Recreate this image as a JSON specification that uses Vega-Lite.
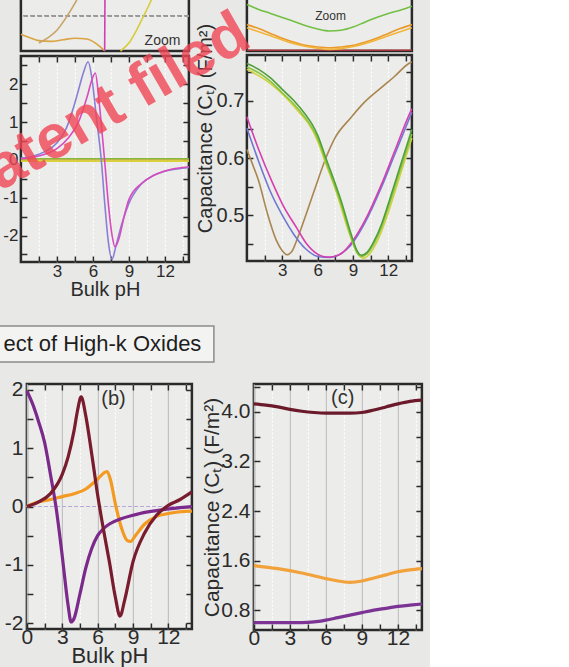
{
"$schema": "https://vega.github.io/schema/vega-lite/v6.json",
"background": "#e8e8e6",
"padding": {"left": -58.1, "top": -34, "right": 0, "bottom": 0},
"title": {"text": "patent filed", "orient": "none", "anchor": "start", "frame": "group", "angle": -30, "dx": -140, "dy": 195.6, "offset": 0, "fontSize": 62, "font": "Liberation Sans", "fontWeight": "bold", "color": "rgba(240,70,85,0.8)", "baseline": "alphabetic", "align": "left"},
"config": {
  "view": {"stroke": "#2a2a2a", "strokeWidth": 2.5, "fill": "#ececea"},
  "axis": {"domain": false, "grid": false, "labelFont": "Liberation Sans", "titleFont": "Liberation Sans", "titleFontWeight": "normal", "labelColor": "#2b2b2b", "titleColor": "#2b2b2b", "tickColor": "#2b2b2b", "tickWidth": 1.5, "tickSize": -6, "labelPadding": 9, "titlePadding": 2, "labelFlush": false, "labelOverlap": false},
  "line": {"strokeWidth": 1.6, "interpolate": "monotone"},
  "range": {"category": ["#d9a441","#c8a467","#d8cc3c","#d23fb5","#8a7fd6","#d84bbf","#e6a32a","#86b83c","#d8d33a","#72c043","#e99a2b","#f2b53a","#a8323a","#4f9f3a","#8cc43f","#cfd23f","#a98650","#d53fb0","#6f78d2","#7b2a8c","#781c2e","#f39a22","#6b1a2b","#f2a23a","#7b3494"]}
},
"datasets": {
 "tlz": [
  {"s":"tlz_orange","pH":0,"v":0.21},{"s":"tlz_orange","pH":0.7,"v":0.17},{"s":"tlz_orange","pH":1.5,"v":0.13},{"s":"tlz_orange","pH":2.5,"v":0.12},{"s":"tlz_orange","pH":3.5,"v":0.14},{"s":"tlz_orange","pH":4.5,"v":0.16},{"s":"tlz_orange","pH":5.5,"v":0.15},{"s":"tlz_orange","pH":6.3,"v":0.09},{"s":"tlz_orange","pH":7,"v":0.0},
  {"s":"tlz_tan","pH":1.5,"v":0.1},{"s":"tlz_tan","pH":2.3,"v":0.17},{"s":"tlz_tan","pH":3,"v":0.26},{"s":"tlz_tan","pH":3.6,"v":0.38},{"s":"tlz_tan","pH":4.2,"v":0.52},{"s":"tlz_tan","pH":4.7,"v":0.65},{"s":"tlz_tan","pH":5.2,"v":0.8},
  {"s":"tlz_yellow","pH":8.3,"v":0.0},{"s":"tlz_yellow","pH":9,"v":0.1},{"s":"tlz_yellow","pH":9.6,"v":0.25},{"s":"tlz_yellow","pH":10.1,"v":0.4},{"s":"tlz_yellow","pH":10.6,"v":0.55},{"s":"tlz_yellow","pH":11.2,"v":0.75},
  {"s":"tlz_mag","pH":6.98,"v":0.0},{"s":"tlz_mag","pH":7.02,"v":1.0}
 ],
 "tl": [
  {"s":"tl_orange","pH":0,"v":0.0},{"s":"tl_orange","pH":14,"v":0.0},
  {"s":"tl_green","pH":0,"v":0.03},{"s":"tl_green","pH":14,"v":0.03},
  {"s":"tl_yellow","pH":0,"v":-0.03},{"s":"tl_yellow","pH":14,"v":-0.03},
  {"s":"tl_blue","pH":0,"v":0.05},{"s":"tl_blue","pH":1,"v":0.1},{"s":"tl_blue","pH":2,"v":0.22},{"s":"tl_blue","pH":3,"v":0.45},{"s":"tl_blue","pH":3.8,"v":0.85},{"s":"tl_blue","pH":4.3,"v":1.3},{"s":"tl_blue","pH":4.8,"v":1.85},{"s":"tl_blue","pH":5.2,"v":2.3},{"s":"tl_blue","pH":5.6,"v":2.6},{"s":"tl_blue","pH":5.9,"v":2.2},{"s":"tl_blue","pH":6.3,"v":1.1},{"s":"tl_blue","pH":6.7,"v":0.0},{"s":"tl_blue","pH":7.0,"v":-1.2},{"s":"tl_blue","pH":7.3,"v":-2.2},{"s":"tl_blue","pH":7.6,"v":-2.63},{"s":"tl_blue","pH":7.9,"v":-2.3},{"s":"tl_blue","pH":8.4,"v":-1.7},{"s":"tl_blue","pH":9,"v":-1.15},{"s":"tl_blue","pH":10,"v":-0.65},{"s":"tl_blue","pH":11,"v":-0.42},{"s":"tl_blue","pH":12,"v":-0.3},{"s":"tl_blue","pH":13,"v":-0.24},{"s":"tl_blue","pH":14,"v":-0.2},
  {"s":"tl_mag","pH":0,"v":0.03},{"s":"tl_mag","pH":1,"v":0.07},{"s":"tl_mag","pH":2,"v":0.15},{"s":"tl_mag","pH":3,"v":0.3},{"s":"tl_mag","pH":4,"v":0.6},{"s":"tl_mag","pH":4.8,"v":1.0},{"s":"tl_mag","pH":5.5,"v":1.65},{"s":"tl_mag","pH":5.9,"v":2.1},{"s":"tl_mag","pH":6.2,"v":2.3},{"s":"tl_mag","pH":6.5,"v":1.6},{"s":"tl_mag","pH":6.8,"v":0.6},{"s":"tl_mag","pH":7.0,"v":-0.1},{"s":"tl_mag","pH":7.3,"v":-1.2},{"s":"tl_mag","pH":7.6,"v":-2.0},{"s":"tl_mag","pH":7.85,"v":-2.3},{"s":"tl_mag","pH":8.2,"v":-2.05},{"s":"tl_mag","pH":8.6,"v":-1.5},{"s":"tl_mag","pH":9,"v":-1.05},{"s":"tl_mag","pH":10.1,"v":-0.61},{"s":"tl_mag","pH":11,"v":-0.42},{"s":"tl_mag","pH":11.8,"v":-0.31},{"s":"tl_mag","pH":13,"v":-0.22},{"s":"tl_mag","pH":14,"v":-0.18}
 ],
 "trz": [
  {"s":"trz_red","pH":0,"v":0.01},{"s":"trz_red","pH":14,"v":0.01},
  {"s":"trz_green","pH":0,"v":0.58},{"s":"trz_green","pH":1,"v":0.52},{"s":"trz_green","pH":2,"v":0.47},{"s":"trz_green","pH":3,"v":0.42},{"s":"trz_green","pH":4,"v":0.37},{"s":"trz_green","pH":5,"v":0.315},{"s":"trz_green","pH":6,"v":0.275},{"s":"trz_green","pH":7,"v":0.25},{"s":"trz_green","pH":8,"v":0.26},{"s":"trz_green","pH":9,"v":0.3},{"s":"trz_green","pH":10,"v":0.36},{"s":"trz_green","pH":11,"v":0.42},{"s":"trz_green","pH":12,"v":0.47},{"s":"trz_green","pH":13,"v":0.51},{"s":"trz_green","pH":14,"v":0.56},
  {"s":"trz_orange1","pH":0,"v":0.33},{"s":"trz_orange1","pH":1,"v":0.28},{"s":"trz_orange1","pH":2,"v":0.22},{"s":"trz_orange1","pH":3,"v":0.16},{"s":"trz_orange1","pH":4,"v":0.11},{"s":"trz_orange1","pH":5,"v":0.07},{"s":"trz_orange1","pH":6,"v":0.05},{"s":"trz_orange1","pH":7,"v":0.04},{"s":"trz_orange1","pH":8,"v":0.05},{"s":"trz_orange1","pH":9,"v":0.07},{"s":"trz_orange1","pH":10,"v":0.11},{"s":"trz_orange1","pH":11,"v":0.16},{"s":"trz_orange1","pH":12,"v":0.22},{"s":"trz_orange1","pH":13,"v":0.28},{"s":"trz_orange1","pH":14,"v":0.33},
  {"s":"trz_orange2","pH":0,"v":0.29},{"s":"trz_orange2","pH":2,"v":0.19},{"s":"trz_orange2","pH":4,"v":0.09},{"s":"trz_orange2","pH":6,"v":0.035},{"s":"trz_orange2","pH":7,"v":0.02},{"s":"trz_orange2","pH":8,"v":0.03},{"s":"trz_orange2","pH":10,"v":0.09},{"s":"trz_orange2","pH":12,"v":0.19},{"s":"trz_orange2","pH":14,"v":0.29}
 ],
 "tr": [
  {"s":"tr_brown","pH":0,"v":0.615},{"s":"tr_brown","pH":0.5,"v":0.588},{"s":"tr_brown","pH":1,"v":0.56},{"s":"tr_brown","pH":1.7,"v":0.506},{"s":"tr_brown","pH":2.5,"v":0.456},{"s":"tr_brown","pH":3,"v":0.438},{"s":"tr_brown","pH":3.4,"v":0.431},{"s":"tr_brown","pH":3.8,"v":0.436},{"s":"tr_brown","pH":4.3,"v":0.46},{"s":"tr_brown","pH":5.1,"v":0.506},{"s":"tr_brown","pH":6,"v":0.56},{"s":"tr_brown","pH":6.7,"v":0.6},{"s":"tr_brown","pH":7.5,"v":0.636},{"s":"tr_brown","pH":8.8,"v":0.67},{"s":"tr_brown","pH":10,"v":0.698},{"s":"tr_brown","pH":11.4,"v":0.723},{"s":"tr_brown","pH":12.5,"v":0.742},{"s":"tr_brown","pH":13.8,"v":0.766},{"s":"tr_brown","pH":14,"v":0.768},
  {"s":"tr_blue","pH":0,"v":0.652},{"s":"tr_blue","pH":1,"v":0.594},{"s":"tr_blue","pH":2,"v":0.541},{"s":"tr_blue","pH":3,"v":0.5},{"s":"tr_blue","pH":4,"v":0.466},{"s":"tr_blue","pH":5,"v":0.441},{"s":"tr_blue","pH":6,"v":0.428},{"s":"tr_blue","pH":7,"v":0.426},{"s":"tr_blue","pH":8,"v":0.433},{"s":"tr_blue","pH":8.8,"v":0.447},{"s":"tr_blue","pH":10,"v":0.486},{"s":"tr_blue","pH":11.4,"v":0.548},{"s":"tr_blue","pH":12.5,"v":0.604},{"s":"tr_blue","pH":14,"v":0.68},
  {"s":"tr_mag","pH":0,"v":0.672},{"s":"tr_mag","pH":1,"v":0.615},{"s":"tr_mag","pH":2.25,"v":0.553},{"s":"tr_mag","pH":3,"v":0.52},{"s":"tr_mag","pH":4.25,"v":0.477},{"s":"tr_mag","pH":5,"v":0.452},{"s":"tr_mag","pH":6,"v":0.432},{"s":"tr_mag","pH":6.8,"v":0.427},{"s":"tr_mag","pH":7.4,"v":0.428},{"s":"tr_mag","pH":8.2,"v":0.436},{"s":"tr_mag","pH":8.8,"v":0.45},{"s":"tr_mag","pH":10,"v":0.49},{"s":"tr_mag","pH":11.4,"v":0.553},{"s":"tr_mag","pH":12.5,"v":0.61},{"s":"tr_mag","pH":13.8,"v":0.677},{"s":"tr_mag","pH":14,"v":0.686},
  {"s":"tr_yellow","pH":0,"v":0.755},{"s":"tr_yellow","pH":2,"v":0.73},{"s":"tr_yellow","pH":4,"v":0.69},{"s":"tr_yellow","pH":6,"v":0.63},{"s":"tr_yellow","pH":6.7,"v":0.59},{"s":"tr_yellow","pH":7.5,"v":0.546},{"s":"tr_yellow","pH":8.8,"v":0.462},{"s":"tr_yellow","pH":9.4,"v":0.433},{"s":"tr_yellow","pH":9.9,"v":0.425},{"s":"tr_yellow","pH":10.4,"v":0.432},{"s":"tr_yellow","pH":11,"v":0.452},{"s":"tr_yellow","pH":12,"v":0.505},{"s":"tr_yellow","pH":13,"v":0.57},{"s":"tr_yellow","pH":14,"v":0.635},
  {"s":"tr_green2","pH":0,"v":0.759},{"s":"tr_green2","pH":1,"v":0.749},{"s":"tr_green2","pH":2,"v":0.734},{"s":"tr_green2","pH":3,"v":0.714},{"s":"tr_green2","pH":4,"v":0.694},{"s":"tr_green2","pH":5,"v":0.669},{"s":"tr_green2","pH":5.5,"v":0.654},{"s":"tr_green2","pH":6,"v":0.634},{"s":"tr_green2","pH":6.7,"v":0.594},{"s":"tr_green2","pH":7.5,"v":0.549},{"s":"tr_green2","pH":8,"v":0.519},{"s":"tr_green2","pH":8.8,"v":0.464},{"s":"tr_green2","pH":9.3,"v":0.436},{"s":"tr_green2","pH":9.7,"v":0.428},{"s":"tr_green2","pH":10.2,"v":0.433},{"s":"tr_green2","pH":10.8,"v":0.451},{"s":"tr_green2","pH":11.4,"v":0.478},{"s":"tr_green2","pH":12,"v":0.514},{"s":"tr_green2","pH":13,"v":0.578},{"s":"tr_green2","pH":14,"v":0.642},
  {"s":"tr_green1","pH":0,"v":0.765},{"s":"tr_green1","pH":1,"v":0.755},{"s":"tr_green1","pH":2,"v":0.74},{"s":"tr_green1","pH":3,"v":0.72},{"s":"tr_green1","pH":4,"v":0.7},{"s":"tr_green1","pH":5,"v":0.675},{"s":"tr_green1","pH":5.5,"v":0.66},{"s":"tr_green1","pH":6,"v":0.64},{"s":"tr_green1","pH":6.7,"v":0.6},{"s":"tr_green1","pH":7.5,"v":0.555},{"s":"tr_green1","pH":8,"v":0.525},{"s":"tr_green1","pH":8.8,"v":0.47},{"s":"tr_green1","pH":9.3,"v":0.44},{"s":"tr_green1","pH":9.7,"v":0.43},{"s":"tr_green1","pH":10.2,"v":0.435},{"s":"tr_green1","pH":10.8,"v":0.455},{"s":"tr_green1","pH":11.4,"v":0.483},{"s":"tr_green1","pH":12,"v":0.52},{"s":"tr_green1","pH":13,"v":0.585},{"s":"tr_green1","pH":14,"v":0.65}
 ],
 "b": [
  {"s":"b_orange","pH":0,"v":0.0},{"s":"b_orange","pH":1,"v":0.08},{"s":"b_orange","pH":2,"v":0.12},{"s":"b_orange","pH":3,"v":0.17},{"s":"b_orange","pH":4,"v":0.22},{"s":"b_orange","pH":5,"v":0.3},{"s":"b_orange","pH":5.5,"v":0.38},{"s":"b_orange","pH":6,"v":0.47},{"s":"b_orange","pH":6.5,"v":0.57},{"s":"b_orange","pH":6.8,"v":0.6},{"s":"b_orange","pH":7.1,"v":0.45},{"s":"b_orange","pH":7.5,"v":0.05},{"s":"b_orange","pH":8,"v":-0.35},{"s":"b_orange","pH":8.5,"v":-0.58},{"s":"b_orange","pH":8.8,"v":-0.6},{"s":"b_orange","pH":9.2,"v":-0.5},{"s":"b_orange","pH":10,"v":-0.3},{"s":"b_orange","pH":11,"v":-0.17},{"s":"b_orange","pH":12,"v":-0.12},{"s":"b_orange","pH":13,"v":-0.09},{"s":"b_orange","pH":14,"v":-0.08},
  {"s":"b_purple","pH":0,"v":1.98},{"s":"b_purple","pH":0.5,"v":1.75},{"s":"b_purple","pH":1,"v":1.45},{"s":"b_purple","pH":1.5,"v":1.1},{"s":"b_purple","pH":2,"v":0.55},{"s":"b_purple","pH":2.5,"v":-0.05},{"s":"b_purple","pH":3,"v":-0.85},{"s":"b_purple","pH":3.5,"v":-1.7},{"s":"b_purple","pH":3.75,"v":-1.98},{"s":"b_purple","pH":4,"v":-1.92},{"s":"b_purple","pH":4.5,"v":-1.5},{"s":"b_purple","pH":5,"v":-1.05},{"s":"b_purple","pH":5.5,"v":-0.72},{"s":"b_purple","pH":6,"v":-0.5},{"s":"b_purple","pH":6.5,"v":-0.38},{"s":"b_purple","pH":7,"v":-0.3},{"s":"b_purple","pH":8,"v":-0.21},{"s":"b_purple","pH":9,"v":-0.15},{"s":"b_purple","pH":10,"v":-0.1},{"s":"b_purple","pH":11,"v":-0.07},{"s":"b_purple","pH":12,"v":-0.04},{"s":"b_purple","pH":13,"v":-0.02},{"s":"b_purple","pH":14,"v":0.0},
  {"s":"b_maroon","pH":0,"v":0.0},{"s":"b_maroon","pH":1,"v":0.08},{"s":"b_maroon","pH":2,"v":0.22},{"s":"b_maroon","pH":3,"v":0.55},{"s":"b_maroon","pH":3.5,"v":0.85},{"s":"b_maroon","pH":4,"v":1.3},{"s":"b_maroon","pH":4.3,"v":1.65},{"s":"b_maroon","pH":4.6,"v":1.88},{"s":"b_maroon","pH":5,"v":1.55},{"s":"b_maroon","pH":5.5,"v":0.9},{"s":"b_maroon","pH":6,"v":0.2},{"s":"b_maroon","pH":6.5,"v":-0.4},{"s":"b_maroon","pH":7,"v":-0.95},{"s":"b_maroon","pH":7.5,"v":-1.55},{"s":"b_maroon","pH":7.9,"v":-1.88},{"s":"b_maroon","pH":8.3,"v":-1.6},{"s":"b_maroon","pH":9,"v":-0.95},{"s":"b_maroon","pH":10,"v":-0.45},{"s":"b_maroon","pH":11,"v":-0.15},{"s":"b_maroon","pH":12,"v":0.02},{"s":"b_maroon","pH":13,"v":0.12},{"s":"b_maroon","pH":14,"v":0.25}
 ],
 "c": [
  {"s":"c_maroon","pH":0,"v":4.13},{"s":"c_maroon","pH":1,"v":4.11},{"s":"c_maroon","pH":2,"v":4.08},{"s":"c_maroon","pH":3,"v":4.04},{"s":"c_maroon","pH":4,"v":4.01},{"s":"c_maroon","pH":5,"v":3.99},{"s":"c_maroon","pH":6,"v":3.98},{"s":"c_maroon","pH":7,"v":3.98},{"s":"c_maroon","pH":8,"v":3.98},{"s":"c_maroon","pH":9,"v":3.99},{"s":"c_maroon","pH":10,"v":4.03},{"s":"c_maroon","pH":11,"v":4.08},{"s":"c_maroon","pH":12,"v":4.13},{"s":"c_maroon","pH":13,"v":4.17},{"s":"c_maroon","pH":14,"v":4.19},
  {"s":"c_orange","pH":0,"v":1.52},{"s":"c_orange","pH":2,"v":1.47},{"s":"c_orange","pH":4,"v":1.4},{"s":"c_orange","pH":6,"v":1.31},{"s":"c_orange","pH":7,"v":1.27},{"s":"c_orange","pH":8,"v":1.25},{"s":"c_orange","pH":9,"v":1.27},{"s":"c_orange","pH":10,"v":1.32},{"s":"c_orange","pH":11,"v":1.37},{"s":"c_orange","pH":12,"v":1.42},{"s":"c_orange","pH":13,"v":1.45},{"s":"c_orange","pH":14,"v":1.47},
  {"s":"c_purple","pH":0,"v":0.6},{"s":"c_purple","pH":2,"v":0.6},{"s":"c_purple","pH":4,"v":0.6},{"s":"c_purple","pH":5,"v":0.61},{"s":"c_purple","pH":6,"v":0.64},{"s":"c_purple","pH":7,"v":0.68},{"s":"c_purple","pH":8,"v":0.72},{"s":"c_purple","pH":9,"v":0.76},{"s":"c_purple","pH":10,"v":0.8},{"s":"c_purple","pH":11,"v":0.83},{"s":"c_purple","pH":12,"v":0.86},{"s":"c_purple","pH":13,"v":0.88},{"s":"c_purple","pH":14,"v":0.9}
 ]
},
"spacing": 24,
"vconcat": [
 {"spacing": 0, "hconcat": [
  {"width": 10, "height": 10, "view": {"stroke": null, "fill": null}, "data": {"values": []}, "mark": "point"},
  {"spacing": -11, "vconcat": [
   {"width": 168, "height": 80, "data": {"name": "tlz"},
    "layer": [
     {"mark": {"type": "rule", "strokeDash": [4,3], "color": "#9a9a9a", "strokeWidth": 1}, "encoding": {"y": {"datum": 0.44, "type": "quantitative", "axis": null}}},
     {"mark": "line", "encoding": {
       "x": {"field": "pH", "type": "quantitative", "scale": {"domain": [0,14], "nice": false, "zero": false}, "axis": {"values": [1.5,3,4.5,6,7.5,9,10.5,12,13.5], "labels": false, "title": null, "grid": true, "gridColor": "#ffffff", "gridDash": [2,2], "gridWidth": 1.2}},
       "y": {"field": "v", "type": "quantitative", "scale": {"domain": [0,1], "nice": false, "zero": false}, "axis": null},
       "color": {"field": "s", "type": "nominal", "scale": {"domain": ["tlz_orange","tlz_tan","tlz_yellow","tlz_mag","tl_blue","tl_mag","tl_orange","tl_green","tl_yellow","trz_green","trz_orange1","trz_orange2","trz_red","tr_green1","tr_green2","tr_yellow","tr_brown","tr_mag","tr_blue","b_purple","b_maroon","b_orange","c_maroon","c_orange","c_purple"]}, "legend": null}}},
     {"data": {"values": [{"pH": 11.8, "v": 0.12, "label": "Zoom"}]}, "mark": {"type": "text", "font": "Liberation Sans", "fontSize": 14, "color": "#333333"}, "encoding": {"x": {"field": "pH", "type": "quantitative", "axis": null}, "y": {"field": "v", "type": "quantitative", "axis": null}, "text": {"field": "label"}}}
    ]},
   {"width": 168, "height": 206, "data": {"name": "tl"},
    "resolve": {"axis": {"x": "independent", "y": "independent"}},
    "layer": [
     {"mark": "line", "encoding": {
       "x": {"field": "pH", "type": "quantitative", "scale": {"domain": [0,14], "nice": false, "zero": false}, "axis": {"values": [1.5,3,4.5,6,7.5,9,10.5,12,13.5], "labelExpr": "datum.value % 3 === 0 ? datum.label : ''", "labelFontSize": 17, "labelPadding": 7, "title": "Bulk pH", "titleFontSize": 20, "titlePadding": 0, "grid": true, "gridColor": "#ffffff", "gridDash": [2,2], "gridWidth": 1.2}},
       "y": {"field": "v", "type": "quantitative", "scale": {"domain": [-2.7,2.75], "nice": false, "zero": false}, "axis": {"values": [-2.5,-2,-1.5,-1,-0.5,0,0.5,1,1.5,2,2.5], "labelExpr": "datum.value % 1 === 0 ? (datum.value < 0 ? '-' : '') + abs(datum.value) : ''", "labelFontSize": 17, "labelPadding": 9, "title": null, "minExtent": 18, "maxExtent": 18}},
       "color": {"field": "s", "type": "nominal", "scale": {"domain": ["tlz_orange","tlz_tan","tlz_yellow","tlz_mag","tl_blue","tl_mag","tl_orange","tl_green","tl_yellow","trz_green","trz_orange1","trz_orange2","trz_red","tr_green1","tr_green2","tr_yellow","tr_brown","tr_mag","tr_blue","b_purple","b_maroon","b_orange","c_maroon","c_orange","c_purple"]}, "legend": null}}},
     {"mark": {"type": "line", "opacity": 0}, "encoding": {
       "x": {"field": "pH", "type": "quantitative", "axis": {"orient": "top", "values": [1.5,3,4.5,6,7.5,9,10.5,12,13.5], "labels": false, "title": null}},
       "y": {"field": "v", "type": "quantitative", "axis": {"orient": "right", "values": [-2.5,-2,-1.5,-1,-0.5,0,0.5,1,1.5,2,2.5], "labels": false, "title": null}},
       "detail": {"field": "s"}}}
    ]}
  ]},
  {"spacing": -36, "vconcat": [
   {"width": 165, "height": 80, "data": {"name": "trz"},
    "layer": [
     {"mark": "line", "encoding": {
       "x": {"field": "pH", "type": "quantitative", "scale": {"domain": [0,14], "nice": false, "zero": false}, "axis": {"values": [1.5,3,4.5,6,7.5,9,10.5,12,13.5], "labels": false, "title": null, "grid": true, "gridColor": "#ffffff", "gridDash": [2,2], "gridWidth": 1.2}},
       "y": {"field": "v", "type": "quantitative", "scale": {"domain": [0,1], "nice": false, "zero": false}, "axis": null},
       "color": {"field": "s", "type": "nominal", "scale": {"domain": ["tlz_orange","tlz_tan","tlz_yellow","tlz_mag","tl_blue","tl_mag","tl_orange","tl_green","tl_yellow","trz_green","trz_orange1","trz_orange2","trz_red","tr_green1","tr_green2","tr_yellow","tr_brown","tr_mag","tr_blue","b_purple","b_maroon","b_orange","c_maroon","c_orange","c_purple"]}, "legend": null}}},
     {"data": {"values": [{"pH": 7.1, "v": 0.44, "label": "Zoom"}]}, "mark": {"type": "text", "font": "Liberation Sans", "fontSize": 12, "color": "#333333"}, "encoding": {"x": {"field": "pH", "type": "quantitative", "axis": null}, "y": {"field": "v", "type": "quantitative", "axis": null}, "text": {"field": "label"}}}
    ]},
   {"width": 165, "height": 206, "data": {"name": "tr"},
    "resolve": {"axis": {"x": "independent", "y": "independent"}},
    "layer": [
     {"mark": "line", "encoding": {
       "x": {"field": "pH", "type": "quantitative", "scale": {"domain": [0,14], "nice": false, "zero": false}, "axis": {"values": [1.5,3,4.5,6,7.5,9,10.5,12,13.5], "labelExpr": "datum.value % 3 === 0 ? datum.label : ''", "labelFontSize": 17, "labelPadding": 7, "title": null, "grid": true, "gridColor": "#ffffff", "gridDash": [2,2], "gridWidth": 1.2}},
       "y": {"field": "v", "type": "quantitative", "scale": {"domain": [0.42,0.78], "nice": false, "zero": false}, "axis": {"values": [0.45,0.5,0.55,0.6,0.65,0.7,0.75], "labelExpr": "round(datum.value*100) % 10 === 0 ? format(datum.value, '.1f') : ''", "labelFontSize": 20, "labelPadding": 9, "title": "Capacitance (Cₜ) (F/m²)", "titleFontSize": 20, "titlePadding": 1, "titleY": 73, "minExtent": 30, "maxExtent": 30}},
       "color": {"field": "s", "type": "nominal", "scale": {"domain": ["tlz_orange","tlz_tan","tlz_yellow","tlz_mag","tl_blue","tl_mag","tl_orange","tl_green","tl_yellow","trz_green","trz_orange1","trz_orange2","trz_red","tr_green1","tr_green2","tr_yellow","tr_brown","tr_mag","tr_blue","b_purple","b_maroon","b_orange","c_maroon","c_orange","c_purple"]}, "legend": null}}},
     {"mark": {"type": "line", "opacity": 0}, "encoding": {
       "x": {"field": "pH", "type": "quantitative", "axis": {"orient": "top", "values": [1.5,3,4.5,6,7.5,9,10.5,12,13.5], "labels": false, "title": null}},
       "y": {"field": "v", "type": "quantitative", "axis": {"orient": "right", "values": [0.45,0.5,0.55,0.6,0.65,0.7,0.75], "labels": false, "title": null}},
       "detail": {"field": "s"}}}
    ]}
  ]}
 ]},
 {"spacing": 11, "vconcat": [
  {"width": 223, "height": 36, "view": {"stroke": "#8c8c8c", "strokeWidth": 1.5, "fill": "#f3f3f2"},
   "data": {"values": [{"label": "ect of High-k Oxides"}]},
   "mark": {"type": "text", "font": "Liberation Sans", "fontSize": 22, "color": "#1e1e1e"},
   "encoding": {"text": {"field": "label", "type": "nominal"}}},
  {"spacing": 0, "hconcat": [
   {"width": 11, "height": 10, "view": {"stroke": null, "fill": null}, "data": {"values": []}, "mark": "point"},
   {"width": 165, "height": 245, "data": {"name": "b"},
    "resolve": {"axis": {"x": "independent", "y": "independent"}},
    "layer": [
     {"mark": {"type": "rule", "strokeDash": [3,3], "color": "#b9a6d8", "strokeWidth": 1.2}, "encoding": {"y": {"datum": 0, "type": "quantitative", "axis": null}}},
     {"mark": {"type": "line", "strokeWidth": 3.2}, "encoding": {
       "x": {"field": "pH", "type": "quantitative", "scale": {"domain": [0,14], "nice": false, "zero": false}, "axis": {"values": [0,1.5,3,4.5,6,7.5,9,10.5,12,13.5], "labelExpr": "datum.value % 3 === 0 ? datum.label : ''", "labelFontSize": 21, "labelPadding": 4, "title": "Bulk pH", "titleFontSize": 22, "titlePadding": -2, "grid": true, "gridColor": {"condition": {"test": "datum.value % 3 === 0", "value": "#c2c2c2"}, "value": "#ffffff"}, "gridDash": {"condition": {"test": "datum.value % 3 === 0", "value": []}, "value": [2,2]}, "gridWidth": 1.2}},
       "y": {"field": "v", "type": "quantitative", "scale": {"domain": [-2.1,2.1], "nice": false, "zero": false}, "axis": {"values": [-2,-1.5,-1,-0.5,0,0.5,1,1.5,2], "labelExpr": "datum.value % 1 === 0 ? (datum.value < 0 ? '-' : '') + abs(datum.value) : ''", "labelFontSize": 21, "labelPadding": 10, "title": null, "minExtent": 23, "maxExtent": 23}},
       "color": {"field": "s", "type": "nominal", "scale": {"domain": ["tlz_orange","tlz_tan","tlz_yellow","tlz_mag","tl_blue","tl_mag","tl_orange","tl_green","tl_yellow","trz_green","trz_orange1","trz_orange2","trz_red","tr_green1","tr_green2","tr_yellow","tr_brown","tr_mag","tr_blue","b_purple","b_maroon","b_orange","c_maroon","c_orange","c_purple"]}, "legend": null}}},
     {"data": {"values": [{"pH": 7.35, "v": 1.85, "label": "(b)"}]}, "mark": {"type": "text", "font": "Liberation Sans", "fontSize": 20, "color": "#333333"}, "encoding": {
       "x": {"field": "pH", "type": "quantitative", "axis": {"orient": "top", "values": [1.5,3,4.5,6,7.5,9,10.5,12,13.5], "labels": false, "title": null}},
       "y": {"field": "v", "type": "quantitative", "axis": {"orient": "right", "values": [-2,-1.5,-1,-0.5,0,0.5,1,1.5,2], "labels": false, "title": null}},
       "text": {"field": "label"}}}
    ]},
   {"width": 168, "height": 246, "data": {"name": "c"},
    "resolve": {"axis": {"x": "independent", "y": "independent"}},
    "layer": [
     {"mark": {"type": "line", "strokeWidth": 3.2}, "encoding": {
       "x": {"field": "pH", "type": "quantitative", "scale": {"domain": [0,14], "nice": false, "zero": false}, "axis": {"values": [0,1.5,3,4.5,6,7.5,9,10.5,12,13.5], "labelExpr": "datum.value % 3 === 0 ? datum.label : ''", "labelFontSize": 21, "labelPadding": 4, "title": null, "grid": true, "gridColor": {"condition": {"test": "datum.value % 3 === 0", "value": "#c2c2c2"}, "value": "#ffffff"}, "gridDash": {"condition": {"test": "datum.value % 3 === 0", "value": []}, "value": [2,2]}, "gridWidth": 1.2}},
       "y": {"field": "v", "type": "quantitative", "scale": {"domain": [0.48,4.45], "nice": false, "zero": false}, "axis": {"values": [0.8,1.2,1.6,2.0,2.4,2.8,3.2,3.6,4.0,4.4], "labelExpr": "round(datum.value*10) % 8 === 0 ? format(datum.value, '.1f') : ''", "labelFontSize": 21, "labelPadding": 10, "title": "Capacitance (Cₜ) (F/m²)", "titleFontSize": 21, "titlePadding": 1, "minExtent": 30, "maxExtent": 30}},
       "color": {"field": "s", "type": "nominal", "scale": {"domain": ["tlz_orange","tlz_tan","tlz_yellow","tlz_mag","tl_blue","tl_mag","tl_orange","tl_green","tl_yellow","trz_green","trz_orange1","trz_orange2","trz_red","tr_green1","tr_green2","tr_yellow","tr_brown","tr_mag","tr_blue","b_purple","b_maroon","b_orange","c_maroon","c_orange","c_purple"]}, "legend": null}}},
     {"data": {"values": [{"pH": 7.4, "v": 4.22, "label": "(c)"}]}, "mark": {"type": "text", "font": "Liberation Sans", "fontSize": 20, "color": "#333333"}, "encoding": {
       "x": {"field": "pH", "type": "quantitative", "axis": {"orient": "top", "values": [1.5,3,4.5,6,7.5,9,10.5,12,13.5], "labels": false, "title": null}},
       "y": {"field": "v", "type": "quantitative", "axis": {"orient": "right", "values": [0.8,1.2,1.6,2.0,2.4,2.8,3.2,3.6,4.0,4.4], "labels": false, "title": null}},
       "text": {"field": "label"}}}
    ]}
  ]}
 ]}
]
}
